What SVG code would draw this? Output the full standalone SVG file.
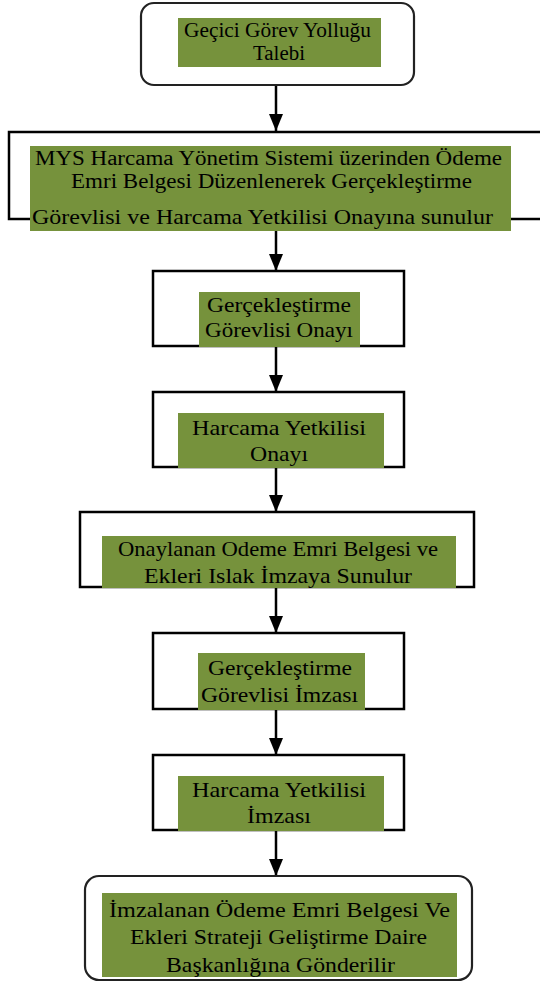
<svg xmlns="http://www.w3.org/2000/svg" width="540" height="983" viewBox="0 0 540 983">
<style>
.box{fill:#fff;stroke:#000;stroke-width:2.5}
.rbox{fill:#fff;stroke:#222;stroke-width:2.2}
.hl{fill:#76923c}
.t{font-family:"Liberation Serif","Times New Roman",serif;font-size:22px;fill:#000;text-anchor:middle}
.s{font-size:20px}
.con{stroke:#000;stroke-width:2.5;fill:none}
</style>
<defs>
<marker id="ah" markerUnits="userSpaceOnUse" markerWidth="18" markerHeight="14" refX="17" refY="7" orient="auto">
<path d="M0,0 L17,7 L0,14 z" fill="#000"/>
</marker>
</defs>
<rect width="540" height="983" fill="#fff"/>
<g id="connectors">
<line class="con" x1="276" y1="85" x2="276" y2="131" marker-end="url(#ah)"/>
<line class="con" x1="276" y1="219" x2="276" y2="271" marker-end="url(#ah)"/>
<line class="con" x1="276" y1="346" x2="276" y2="392" marker-end="url(#ah)"/>
<line class="con" x1="276" y1="467" x2="276" y2="512" marker-end="url(#ah)"/>
<line class="con" x1="276" y1="587" x2="276" y2="633" marker-end="url(#ah)"/>
<line class="con" x1="276" y1="709" x2="276" y2="755" marker-end="url(#ah)"/>
<line class="con" x1="276" y1="830" x2="276" y2="876" marker-end="url(#ah)"/>
</g>
<g id="n1">
<rect class="rbox" x="141" y="3" width="273" height="82" rx="13"/>
<rect class="hl" x="178" y="18" width="203" height="49"/>
<text class="t s" x="277.5" y="37" textLength="187" lengthAdjust="spacingAndGlyphs">Geçici Görev Yolluğu</text>
<text class="t s" x="279" y="60" textLength="52" lengthAdjust="spacingAndGlyphs">Talebi</text>
</g>
<g id="n2">
<rect class="box" x="9" y="132" width="560" height="87"/>
<rect class="hl" x="30" y="146" width="481" height="85"/>
<text class="t s" x="268.5" y="165" textLength="467" lengthAdjust="spacingAndGlyphs">MYS Harcama Yönetim Sistemi üzerinden Ödeme</text>
<text class="t s" x="271.5" y="188" textLength="401" lengthAdjust="spacingAndGlyphs">Emri Belgesi Düzenlenerek Gerçekleştirme</text>
<text class="t" x="262.5" y="224" textLength="461" lengthAdjust="spacingAndGlyphs">Görevlisi ve Harcama Yetkilisi Onayına sunulur</text>
</g>
<g id="n3">
<rect class="box" x="153" y="271" width="251" height="75"/>
<rect class="hl" x="199" y="292" width="161" height="55"/>
<text class="t" x="279" y="312" textLength="144" lengthAdjust="spacingAndGlyphs">Gerçekleştirme</text>
<text class="t" x="279" y="337" textLength="148" lengthAdjust="spacingAndGlyphs">Görevlisi Onayı</text>
</g>
<g id="n4">
<rect class="box" x="153" y="392" width="251" height="75"/>
<rect class="hl" x="178" y="413" width="206" height="55"/>
<text class="t" x="279" y="435" textLength="174" lengthAdjust="spacingAndGlyphs">Harcama Yetkilisi</text>
<text class="t" x="279" y="461" textLength="58" lengthAdjust="spacingAndGlyphs">Onayı</text>
</g>
<g id="n5">
<rect class="box" x="80" y="512" width="394" height="75"/>
<rect class="hl" x="102" y="536" width="354" height="52"/>
<text class="t" x="278" y="556" textLength="320" lengthAdjust="spacingAndGlyphs">Onaylanan Odeme Emri Belgesi ve</text>
<text class="t" x="278" y="583" textLength="268" lengthAdjust="spacingAndGlyphs">Ekleri Islak İmzaya Sunulur</text>
</g>
<g id="n6">
<rect class="box" x="153" y="633" width="251" height="76"/>
<rect class="hl" x="198" y="653" width="167" height="57"/>
<text class="t" x="280" y="675" textLength="144" lengthAdjust="spacingAndGlyphs">Gerçekleştirme</text>
<text class="t" x="279.5" y="702" textLength="157" lengthAdjust="spacingAndGlyphs">Görevlisi İmzası</text>
</g>
<g id="n7">
<rect class="box" x="153" y="755" width="251" height="75"/>
<rect class="hl" x="178" y="776" width="206" height="55"/>
<text class="t" x="279" y="797" textLength="174" lengthAdjust="spacingAndGlyphs">Harcama Yetkilisi</text>
<text class="t" x="279" y="823" textLength="64" lengthAdjust="spacingAndGlyphs">İmzası</text>
</g>
<g id="n8">
<rect class="rbox" x="85" y="876" width="387" height="104" rx="14"/>
<rect class="hl" x="102" y="893" width="355" height="84"/>
<text class="t" x="279.5" y="917" textLength="341" lengthAdjust="spacingAndGlyphs">İmzalanan Ödeme Emri Belgesi Ve</text>
<text class="t" x="278.5" y="944" textLength="297" lengthAdjust="spacingAndGlyphs">Ekleri Strateji Geliştirme Daire</text>
<text class="t" x="280.5" y="972" textLength="229" lengthAdjust="spacingAndGlyphs">Başkanlığına Gönderilir</text>
</g>
</svg>
